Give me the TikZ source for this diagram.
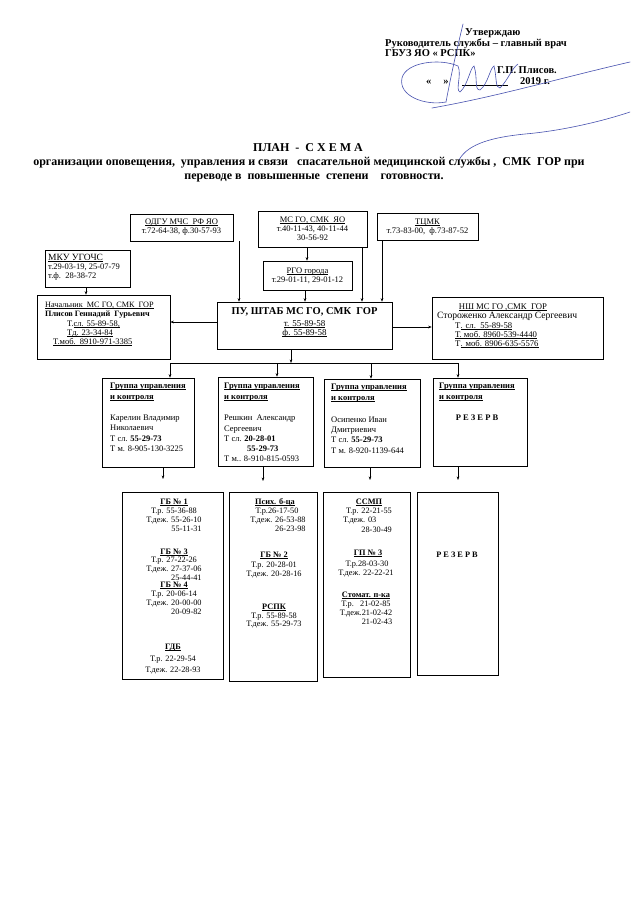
\documentclass[tikz,border=0pt]{standalone}
\usepackage{fontspec}
\setmainfont{Liberation Serif}
\usetikzlibrary{arrows.meta,fit}
\newcommand\undl[1]{\setbox0=\hbox{#1}\rlap{\rule[-1.4pt]{\wd0}{0.45pt}}\box0}
\begin{document}
\begin{tikzpicture}[x=1pt,y=-1pt,
  box/.style={draw=black, line width=0.6pt, inner sep=0pt},
  tx/.style={inner sep=0pt, font=\fontsize{8.5}{9.5}\selectfont, anchor=mid},
  txl/.style={tx, anchor=mid west},
  txr/.style={tx, anchor=mid east},
  bt/.style={inner sep=0pt, font=\fontsize{8.3}{9.5}\selectfont, anchor=mid},
  btl/.style={bt, anchor=mid west},
  btr/.style={bt, anchor=mid east},
  hd/.style={inner sep=0pt, font=\fontsize{10.5}{12}\selectfont\bfseries, anchor=mid west},
  ttl/.style={inner sep=0pt, font=\fontsize{12}{14}\selectfont\bfseries, anchor=mid},
  arr/.style={-{Stealth[length=3.5pt,width=2.6pt]}, line width=0.5pt},
  bus/.style={line width=1pt},
  sig/.style={draw={rgb,255:red,70;green,80;blue,175}, line width=0.6pt, line cap=round}
]
\useasboundingbox (0,0) rectangle (636,900);
\fill[white] (0,0) rectangle (636,900);

% ---------- header ----------
\node[hd] (h1) at (465,33) {Утверждаю};
\node[hd] (h2) at (385,44) {Руководитель службы – главный врач};
\node[hd] (h3) at (385,54) {ГБУЗ ЯО « РСПК»};
\node[hd] (h4) at (497,71) {Г.П. Плисов.};
\node[hd] (h5) at (426,82) {«\hspace{12pt}»};
\node[hd] (h6) at (520,82) {2019 г.};
\coordinate (ula) at (462,85);
\coordinate (ulb) at (508,85);
\draw[line width=0.6pt] (ula) -- (ulb);

% signature (approximate)
\draw[sig] (463,24) .. controls (458,45) and (452,70) .. (446,102);
\draw[sig] (446,102) .. controls (425,106) and (398,96) .. (402,78) .. controls (406,62) and (440,58) .. (458,66)
  .. controls (462,75) and (455,90) .. (460,92) .. controls (468,85) and (470,68) .. (474,66)
  .. controls (478,78) and (474,90) .. (480,90) .. controls (488,84) and (490,68) .. (494,66)
  .. controls (497,78) and (495,88) .. (500,88) .. controls (508,80) and (512,68) .. (518,64);
\draw[sig] (432,108) .. controls (500,96) and (560,78) .. (630,62);
\draw[sig] (459,160) .. controls (468,143) and (495,137) .. (525,134) .. controls (560,131) and (600,122) .. (630,112);

% ---------- title ----------
\node[ttl] (t1) at (308,149) {ПЛАН\ \ -\ \ С Х Е М А};
\node[ttl] (t2) at (309,163) {организации оповещения,\ \ управления и связи\ \ \ спасательной медицинской службы ,\ \ СМК\ \ ГОР при};
\node[ttl] (t3) at (314,177) {переводе в\ \ повышенные\ \ степени\ \ \ \ готовности.};

% ---------- top boxes ----------
\node[box, fit={(130,214) (233,241)}] (odgu) {};
\node[tx] (odgu1) at (181.5,222) {\undl{ОДГУ МЧС\ \ РФ ЯО}};
\node[tx] (odgu2) at (181.5,231) {т.72-64-38, ф.30-57-93};

\node[box, fit={(258,211) (367,247)}] (msyao) {};
\node[tx] (ms1) at (312.5,220) {\undl{МС ГО, СМК\ \ ЯО}};
\node[tx] (ms2) at (312.5,229) {т.40-11-43, 40-11-44};
\node[tx] (ms3) at (312.5,238) {30-56-92};

\node[box, fit={(377,213) (478,240)}] (tcmk) {};
\node[tx] (tc1) at (427.5,222) {\undl{ТЦМК}};
\node[tx] (tc2) at (427.5,231) {т.73-83-00,\ \ ф.73-87-52};

\node[box, fit={(263,261) (352,290)}] (rgo) {};
\node[tx] (rg1) at (307.5,271) {\undl{РГО города}};
\node[tx] (rg2) at (307.5,280) {т.29-01-11, 29-01-12};

\node[box, fit={(45,250) (130,287)}] (mku) {};
\node[txl, font=\fontsize{9.5}{10}\selectfont] (mk1) at (48,258) {\undl{МКУ УГОЧС}};
\node[txl] (mk2) at (48,267) {т.29-03-19, 25-07-79};
\node[txl] (mk3) at (48,276) {т.ф.\ \ 28-38-72};

\node[box, fit={(37,295) (170,359)}] (nach) {};
\node[txl, font=\fontsize{8.2}{9.5}\selectfont] (n1) at (45,305) {\undl{Начальник\ \ МС ГО, СМК\ \ ГОР}};
\node[txl, font=\fontsize{8.2}{9.5}\selectfont] (n2) at (45,314) {\bfseries Плисов Геннадий\ \ Гурьевич};
\node[txl] (n3) at (67,324) {Т.\undl{сл. 55-89-58,}};
\node[txl] (n4) at (67,333) {\undl{Тд. 23-34-84}};
\node[txl] (n5) at (53,342) {\undl{Т.моб.\ \ 8910-971-3385}};

\node[box, fit={(217,302) (392,349)}] (pu) {};
\node[tx, font=\fontsize{10.5}{12}\selectfont\bfseries] (pu1) at (304.5,312) {ПУ, ШТАБ МС ГО, СМК\ \ ГОР};
\node[tx, font=\fontsize{9}{11}\selectfont] (pu2) at (304.5,324) {\undl{т. 55-89-58}};
\node[tx, font=\fontsize{9}{11}\selectfont] (pu3) at (304.5,333) {\undl{ф. 55-89-58}};

\node[box, fit={(432,297) (603,359)}] (nsh) {};
\node[tx, font=\fontsize{8.7}{9.5}\selectfont] (ns1) at (503,307) {\undl{НШ МС ГО ,СМК\ \ ГОР}};
\node[txl, font=\fontsize{9.6}{10}\selectfont] (ns2) at (437,316) {\makebox[140pt][s]{Стороженко Александр Сергеевич}};
\node[txl, font=\fontsize{8.7}{9.5}\selectfont] (ns3) at (455,326) {Т\undl{. сл.\ \ 55-89-58}};
\node[txl, font=\fontsize{8.7}{9.5}\selectfont] (ns4) at (455,335) {\undl{Т. моб. 8960-539-4440}};
\node[txl, font=\fontsize{8.7}{9.5}\selectfont] (ns5) at (455,344) {Т\undl{. моб. 8906-635-5576}};

% ---------- top connectors ----------
\coordinate (xa) at (239,0);
\coordinate (xb) at (307,0);
\coordinate (xc) at (305,0);
\coordinate (xd) at (362,0);
\coordinate (xe) at (382,0);
\coordinate (xf) at (86,0);
\coordinate (ya) at (0,322);
\coordinate (yb) at (0,327);
\draw[arr] (odgu.south -| xa) -- (pu.north -| xa);
\draw[arr] (msyao.south -| xb) -- (rgo.north -| xb);
\draw[arr] (rgo.south -| xc) -- (pu.north -| xc);
\draw[arr] (msyao.south -| xd) -- (pu.north -| xd);
\draw[arr] (tcmk.south -| xe) -- (pu.north -| xe);
\draw[arr] (mku.south -| xf) -- (nach.north -| xf);
\draw[arr, line width=1pt] (pu.west |- ya) -- (nach.east |- ya);
\draw[arr] (pu.east |- yb) -- (nsh.west |- yb);

% ---------- bus ----------
\coordinate (bl) at (170,363);
\coordinate (bp) at (291,363);
\coordinate (bq) at (277,363);
\coordinate (bs) at (371,363);
\coordinate (br) at (458,363);
\draw[bus] (bl) -- (br);
\draw[arr] (pu.south -| bp) -- (bp);

% ---------- groups ----------
\node[box, fit={(102,378) (194,467)}] (g1) {};
\node[box, fit={(218,377) (313,466)}] (g2) {};
\node[box, fit={(324,379) (420,467)}] (g3) {};
\node[box, fit={(433,378) (527,466)}] (g4) {};
\draw[arr] (bl) -- (g1.north -| bl);
\draw[arr] (bq) -- (g2.north -| bq);
\draw[arr] (bs) -- (g3.north -| bs);
\draw[arr] (br) -- (g4.north -| br);

\node[txl] (g1a) at (110,386) {\bfseries\undl{Группа управления}};
\node[txl] (g1b) at (110,397) {\bfseries\undl{и контроля}};
\node[txl] (g1c) at (110,418) {Карелин Владимир};
\node[txl] (g1d) at (110,428) {Николаевич};
\node[txl] (g1e) at (110,439) {Т сл. \textbf{55-29-73}};
\node[txl] (g1f) at (110,449) {Т м. 8-905-130-3225};

\node[txl] (g2a) at (224,386) {\bfseries\undl{Группа управления}};
\node[txl] (g2b) at (224,397) {\bfseries\undl{и контроля}};
\node[txl] (g2c) at (224,418) {Решкин\ \ Александр};
\node[txl] (g2d) at (224,429) {Сергеевич};
\node[txl] (g2e) at (224,439) {Т сл. \textbf{20-28-01}};
\node[txl] (g2f) at (247,449) {\textbf{55-29-73}};
\node[txl] (g2g) at (224,459) {Т м.. 8-910-815-0593};

\node[txl] (g3a) at (331,387) {\bfseries\undl{Группа управления}};
\node[txl] (g3b) at (331,398) {\bfseries\undl{и контроля}};
\node[txl] (g3c) at (331,420) {Осипенко Иван};
\node[txl] (g3d) at (331,430) {Дмитриевич};
\node[txl] (g3e) at (331,440) {Т сл. \textbf{55-29-73}};
\node[txl] (g3f) at (331,451) {Т м. 8-920-1139-644};

\node[txl] (g4a) at (439,386) {\bfseries\undl{Группа управления}};
\node[txl] (g4b) at (439,397) {\bfseries\undl{и контроля}};
\node[tx] (g4c) at (477,418) {\bfseries Р Е З Е Р В};

% ---------- group -> lower ----------
\coordinate (e1) at (163,479);
\coordinate (e2) at (263,481);
\coordinate (e3) at (370,480);
\coordinate (e4) at (458,480);
\draw[arr] (g1.south -| e1) -- (e1);
\draw[arr] (g2.south -| e2) -- (e2);
\draw[arr] (g3.south -| e3) -- (e3);
\draw[arr] (g4.south -| e4) -- (e4);

% ---------- bottom boxes ----------
\node[box, fit={(122,492) (223,679)}] (b1) {};
\node[box, fit={(229,492) (317,681)}] (b2) {};
\node[box, fit={(323,492) (410,677)}] (b3) {};
\node[box, fit={(417,492) (498,675)}] (b4) {};

\node[bt] (b1a) at (174,502) {\bfseries\undl{ГБ № 1}};
\node[bt] (b1b) at (174,511) {Т.р. 55-36-88};
\node[bt] (b1c) at (174,520) {Т.деж. 55-26-10};
\node[btr] (b1d) at (b1c.east |- 0,529) {55-11-31};
\node[bt] (b1e) at (174,552) {\bfseries\undl{ГБ № 3}};
\node[bt] (b1f) at (174,560) {Т.р. 27-22-26};
\node[bt] (b1g) at (174,569) {Т.деж. 27-37-06};
\node[btr] (b1h) at (b1g.east |- 0,578) {25-44-41};
\node[bt] (b1i) at (174,585) {\bfseries\undl{ГБ № 4}};
\node[bt] (b1j) at (174,594) {Т.р. 20-06-14};
\node[bt] (b1k) at (174,603) {Т.деж. 20-00-00};
\node[btr] (b1l) at (b1k.east |- 0,612) {20-09-82};
\node[bt] (b1m) at (173,647) {\bfseries\undl{ГДБ}};
\node[bt] (b1n) at (173,659) {Т.р. 22-29-54};
\node[bt] (b1o) at (173,670) {Т.деж. 22-28-93};

\node[bt] (b2a) at (275,502) {\bfseries\undl{Псих. б-ца}};
\node[bt] (b2b) at (277,511) {Т.р.26-17-50};
\node[bt] (b2c) at (278,520) {Т.деж. 26-53-88};
\node[btr] (b2d) at (b2c.east |- 0,529) {26-23-98};
\node[bt] (b2e) at (274,555) {\bfseries\undl{ГБ № 2}};
\node[bt] (b2f) at (274,565) {Т.р. 20-28-01};
\node[bt] (b2g) at (274,574) {Т.деж. 20-28-16};
\node[bt] (b2h) at (274,607) {\bfseries\undl{РСПК}};
\node[bt] (b2i) at (274,616) {Т.р. 55-89-58};
\node[bt] (b2j) at (274,624) {Т.деж. 55-29-73};

\node[bt] (b3a) at (369,502) {\bfseries\undl{ССМП}};
\node[bt] (b3b) at (369,511) {Т.р. 22-21-55};
\node[btl] (b3c) at (343,520) {Т.деж. 03};
\node[btr] (b3d) at (b3b.east |- 0,530) {28-30-49};
\node[bt] (b3e) at (368,553) {\bfseries\undl{ГП № 3}};
\node[bt] (b3f) at (367,564) {Т.р.28-03-30};
\node[bt] (b3g) at (366,573) {Т.деж. 22-22-21};
\node[bt] (b3h) at (366,595) {\bfseries\undl{Стомат. п-ка}};
\node[bt] (b3i) at (366,604) {Т.р.\ \ \ 21-02-85};
\node[bt] (b3j) at (366,613) {Т.деж.21-02-42};
\node[btr] (b3k) at (b3j.east |- 0,622) {21-02-43};

\node[bt] (b4a) at (457,555) {\bfseries Р Е З Е Р В};

\end{tikzpicture}
\end{document}
